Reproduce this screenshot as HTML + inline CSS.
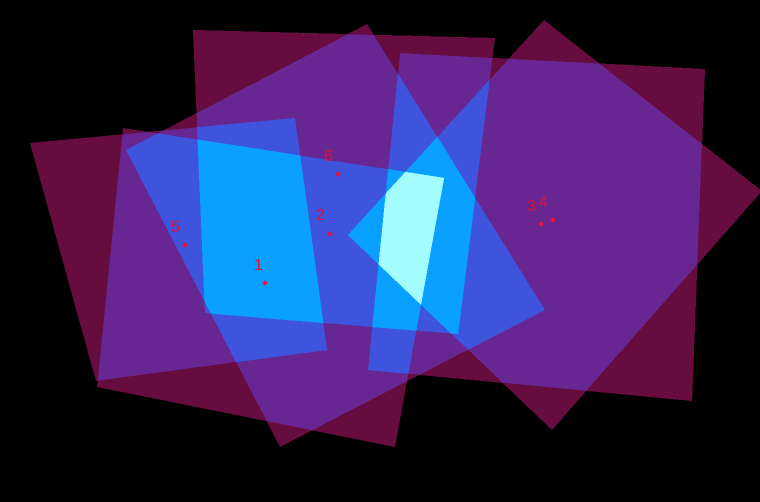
<!DOCTYPE html>
<html><head><meta charset="utf-8">
<style>
html,body{margin:0;padding:0;background:#000;}
svg{display:block;}
text{font-family:"Liberation Sans",sans-serif;}
</style></head>
<body>
<svg id="mosaic" width="760" height="502" viewBox="0 0 760 502" xmlns="http://www.w3.org/2000/svg">
<defs>
<filter id="countmap" x="0" y="0" width="760" height="502" filterUnits="userSpaceOnUse" color-interpolation-filters="sRGB">
<feComponentTransfer>
<feFuncR type="discrete" tableValues="0 0.40 0.40 0.40 0.41 0.25 0.04 0.64 0.80 0.80"/>
<feFuncG type="discrete" tableValues="0 0.05 0.05 0.05 0.15 0.33 0.63 0.99 1 1"/>
<feFuncB type="discrete" tableValues="0 0.25 0.25 0.25 0.58 0.87 1 1 1 1"/>
</feComponentTransfer>
</filter>
</defs>
<g id="footprints" filter="url(#countmap)">
<rect width="760" height="502" fill="#000"/>
</g>
<g id="markers"></g>
</svg>
<script>
const frameIds = ["1","2","3","4","5","6"];
const frame1 = [[123,128],[444,178],[395,447],[97,387]];
const frame2 = [[126,150],[367,24],[545,310],[280,447]];
const frame3 = [[400,53],[705,69],[692,401],[368,370]];
const frame4 = [[544,20],[762,191],[552,430],[348,235]];
const frame5 = [[30,143],[295,118],[327,350],[96,381]];
const frame6 = [[193,30],[495,38],[458,334],[205,313]];
const frames = [frame1,frame2,frame3,frame4,frame5,frame6];
const centerX = [265,330,541,553,185,338];
const centerY = [283,234,224,220,245,174];
const labelDX = [-11,-14,-14,-14,-14,-14];
const labelDY = [-13,-14,-13,-13,-13,-13];

const NS = "http://www.w3.org/2000/svg";
const fp = document.getElementById('footprints');
frames.forEach((q,i)=>{
  const p = document.createElementNS(NS,'polygon');
  p.setAttribute('points', q.map(c=>c[0]+','+c[1]).join(' '));
  p.setAttribute('fill','#fff');
  p.setAttribute('fill-opacity','0.25');
  
  
  fp.appendChild(p);
});
const mk = document.getElementById('markers');
frameIds.forEach((id,i)=>{
  const d = document.createElementNS(NS,'rect');
  d.setAttribute('x', centerX[i]-2);
  d.setAttribute('y', centerY[i]-2);
  d.setAttribute('width', 4);
  d.setAttribute('height', 4);
  d.setAttribute('fill', '#ee1030');
  d.setAttribute('transform', 'rotate(45 '+centerX[i]+' '+centerY[i]+')');
  
  
  mk.appendChild(d);
  const t = document.createElementNS(NS,'text');
  t.setAttribute('x', centerX[i]+labelDX[i]);
  t.setAttribute('y', centerY[i]+labelDY[i]);
  t.setAttribute('fill', '#e0102e');
  t.setAttribute('font-size', '16');
  t.textContent = id;
  
  
  mk.appendChild(t);
});
</script>
</body></html>
